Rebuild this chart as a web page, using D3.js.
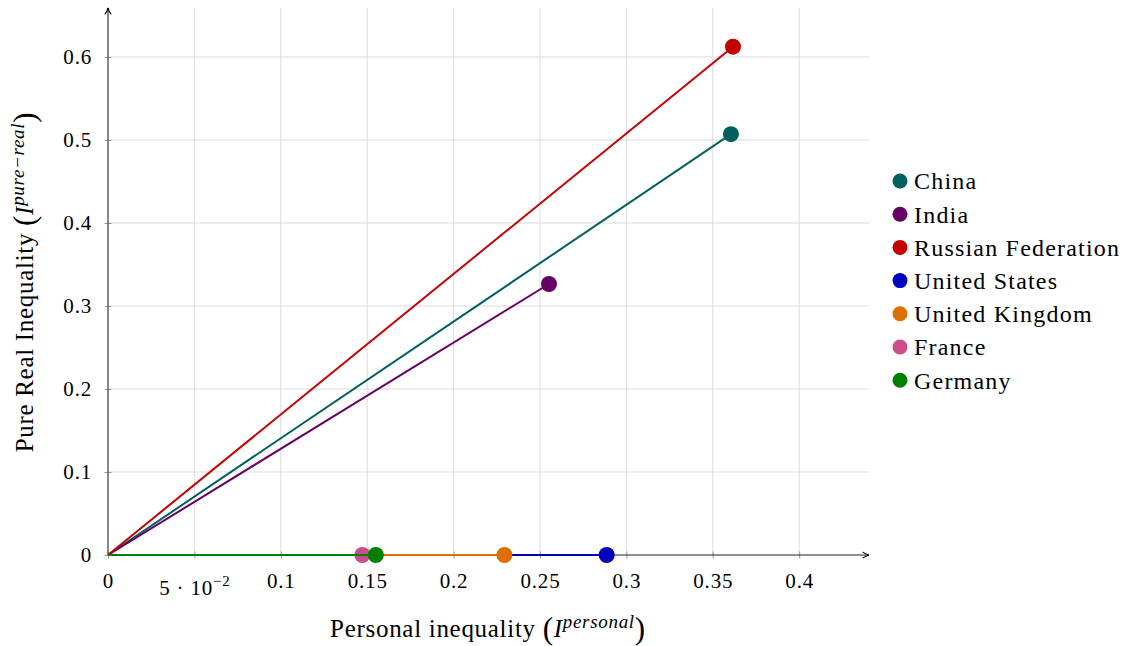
<!DOCTYPE html>
<html>
<head>
<meta charset="utf-8">
<script src="https://cdn.jsdelivr.net/npm/d3@7"></script>
<style>
body { margin: 0; background: #fff; }
svg, svg text { font-family: "Liberation Serif", "DejaVu Serif", serif; }
</style>
</head>
<body>
<script>
var countries = ["China", "India", "Russian Federation", "United States", "United Kingdom", "France", "Germany"];
var personal = [0.3605, 0.2552, 0.3617, 0.2886, 0.2294, 0.1472, 0.155];
var pureReal = [0.507, 0.3265, 0.6124, 0, 0, 0, 0];
var colors = ["#005f5f", "#660066", "#c40000", "#0000bf", "#dd6e00", "#cc4c8c", "#008000"];

var xTicks = [0, 0.05, 0.1, 0.15, 0.2, 0.25, 0.3, 0.35, 0.4];
var xTickLabels = ["0", "5 · 10^−2", "0.1", "0.15", "0.2", "0.25", "0.3", "0.35", "0.4"];
var yTicks = [0, 0.1, 0.2, 0.3, 0.4, 0.5, 0.6];
var yTickLabels = ["0", "0.1", "0.2", "0.3", "0.4", "0.5", "0.6"];

var w = 1128;
var h = 646;

var svg = d3.select("body")
	.append("svg")
	.attr("width", w)
	.attr("height", h);

var xScale = d3.scaleLinear()
	.domain([0, 0.4404])
	.range([108, 869]);

var yScale = d3.scaleLinear()
	.domain([0, 0.659])
	.range([555, 8]);

// grid
svg.append("g")
	.selectAll("line")
	.data(xTicks.slice(1))
	.enter()
	.append("line")
	.attr("x1", function(d){ return xScale(d); })
	.attr("x2", function(d){ return xScale(d); })
	.attr("y1", yScale(0))
	.attr("y2", yScale(0.659))
	.attr("stroke", "#dcdcdc")
	.attr("stroke-width", 1);

svg.append("g")
	.selectAll("line")
	.data(yTicks.slice(1))
	.enter()
	.append("line")
	.attr("x1", xScale(0))
	.attr("x2", xScale(0.4404))
	.attr("y1", function(d){ return yScale(d); })
	.attr("y2", function(d){ return yScale(d); })
	.attr("stroke", "#dcdcdc")
	.attr("stroke-width", 1);

// axes with d3 (ticks centred on the line, like pgfplots)
var xAxis = d3.axisBottom(xScale).tickValues(xTicks).tickSize(0).tickFormat("");
var yAxis = d3.axisLeft(yScale).tickValues(yTicks).tickSize(0).tickFormat("");

var gx = svg.append("g")
	.attr("transform", "translate(0," + yScale(0) + ")")
	.call(xAxis)
	.attr("font-family", null);
gx.select(".domain").remove();
gx.selectAll(".tick").append("line")
	.attr("y1", -3.5).attr("y2", 3.5)
	.attr("stroke", "#999").attr("stroke-width", 1);

var gy = svg.append("g")
	.attr("transform", "translate(" + xScale(0) + ",0)")
	.call(yAxis)
	.attr("font-family", null);
gy.select(".domain").remove();
gy.selectAll(".tick").append("line")
	.attr("x1", -3.5).attr("x2", 3.5)
	.attr("stroke", "#999").attr("stroke-width", 1);

// tick labels
gx.selectAll(".tick").each(function(d, i){
	var lab = xTickLabels[i];
	var t = d3.select(this).append("text")
		.attr("fill", "#000")
		.attr("font-size", 21)
		.attr("letter-spacing", 0.8)
		.attr("text-anchor", "middle")
		.attr("y", 33);
	if (lab.indexOf("^") >= 0) {
		var parts = lab.split("^");
		t.attr("y", 40);
		t.append("tspan").text(parts[0]);
		t.append("tspan").attr("dy", -9).attr("font-size", 15).text(parts[1]);
	} else {
		t.text(lab);
	}
});

gy.selectAll(".tick").each(function(d, i){
	d3.select(this).append("text")
		.attr("fill", "#000")
		.attr("font-size", 21)
		.attr("letter-spacing", 0.8)
		.attr("text-anchor", "end")
		.attr("x", -16)
		.attr("dy", "0.33em")
		.text(yTickLabels[i]);
});

// axis lines with arrows
var defs = svg.append("defs");
defs.append("marker")
	.attr("id", "arrow")
	.attr("viewBox", "0 0 10 10")
	.attr("refX", 9).attr("refY", 5)
	.attr("markerWidth", 8).attr("markerHeight", 8)
	.attr("markerUnits", "userSpaceOnUse")
	.attr("orient", "auto")
	.append("path")
	.attr("d", "M1,1 Q5,4 9,5 Q5,6 1,9")
	.attr("fill", "none")
	.attr("stroke", "#000")
	.attr("stroke-width", 1.3);

svg.append("line")
	.attr("x1", xScale(0)).attr("y1", yScale(0))
	.attr("x2", xScale(0.4404)).attr("y2", yScale(0))
	.attr("stroke", "#222").attr("stroke-width", 1.2)
	.attr("marker-end", "url(#arrow)");
svg.append("line")
	.attr("x1", xScale(0)).attr("y1", yScale(0))
	.attr("x2", xScale(0)).attr("y2", yScale(0.659))
	.attr("stroke", "#555").attr("stroke-width", 1.4)
	.attr("marker-end", "url(#arrow)");

// series: line from origin, mark at end
countries.forEach(function(c, i){
	svg.append("line")
		.attr("x1", xScale(0)).attr("y1", yScale(0))
		.attr("x2", xScale(personal[i])).attr("y2", yScale(pureReal[i]))
		.attr("stroke", colors[i])
		.attr("stroke-width", 2);
	svg.append("circle")
		.attr("cx", xScale(personal[i]))
		.attr("cy", yScale(pureReal[i]))
		.attr("r", 8)
		.attr("fill", colors[i]);
});

// legend
var legend = svg.append("g").attr("transform", "translate(900,181)");
countries.forEach(function(c, i){
	var row = legend.append("g").attr("transform", "translate(0," + (i * 33.2) + ")");
	row.append("circle").attr("r", 7.5).attr("fill", colors[i]);
	row.append("text")
		.attr("x", 14)
		.attr("dy", "0.35em")
		.attr("font-size", 24)
		.attr("letter-spacing", 1.2)
		.text(c);
});

// axis titles
var xt = svg.append("text")
	.attr("x", 488)
	.attr("y", 637)
	.attr("text-anchor", "middle")
	.attr("font-size", 25)
	.attr("letter-spacing", 0.7);
xt.append("tspan").text("Personal inequality ");
xt.append("tspan").attr("font-size", 31).attr("dy", 2).text("(");
xt.append("tspan").attr("font-style", "italic").attr("dy", -2).text("I");
xt.append("tspan").attr("font-style", "italic").attr("font-size", 19).attr("dy", -9).text("personal");
xt.append("tspan").attr("font-size", 31).attr("dy", 11).text(")");

var yt = svg.append("text")
	.attr("transform", "translate(33,282) rotate(-90)")
	.attr("text-anchor", "middle")
	.attr("font-size", 25)
	.attr("letter-spacing", 0.7);
yt.append("tspan").text("Pure Real Inequality ");
yt.append("tspan").attr("font-size", 31).attr("dy", 2).text("(");
yt.append("tspan").attr("font-style", "italic").attr("dy", -2).text("I");
yt.append("tspan").attr("font-style", "italic").attr("font-size", 19).attr("dy", -9).text("pure−real");
yt.append("tspan").attr("font-size", 31).attr("dy", 11).text(")");
</script>
</body>
</html>
